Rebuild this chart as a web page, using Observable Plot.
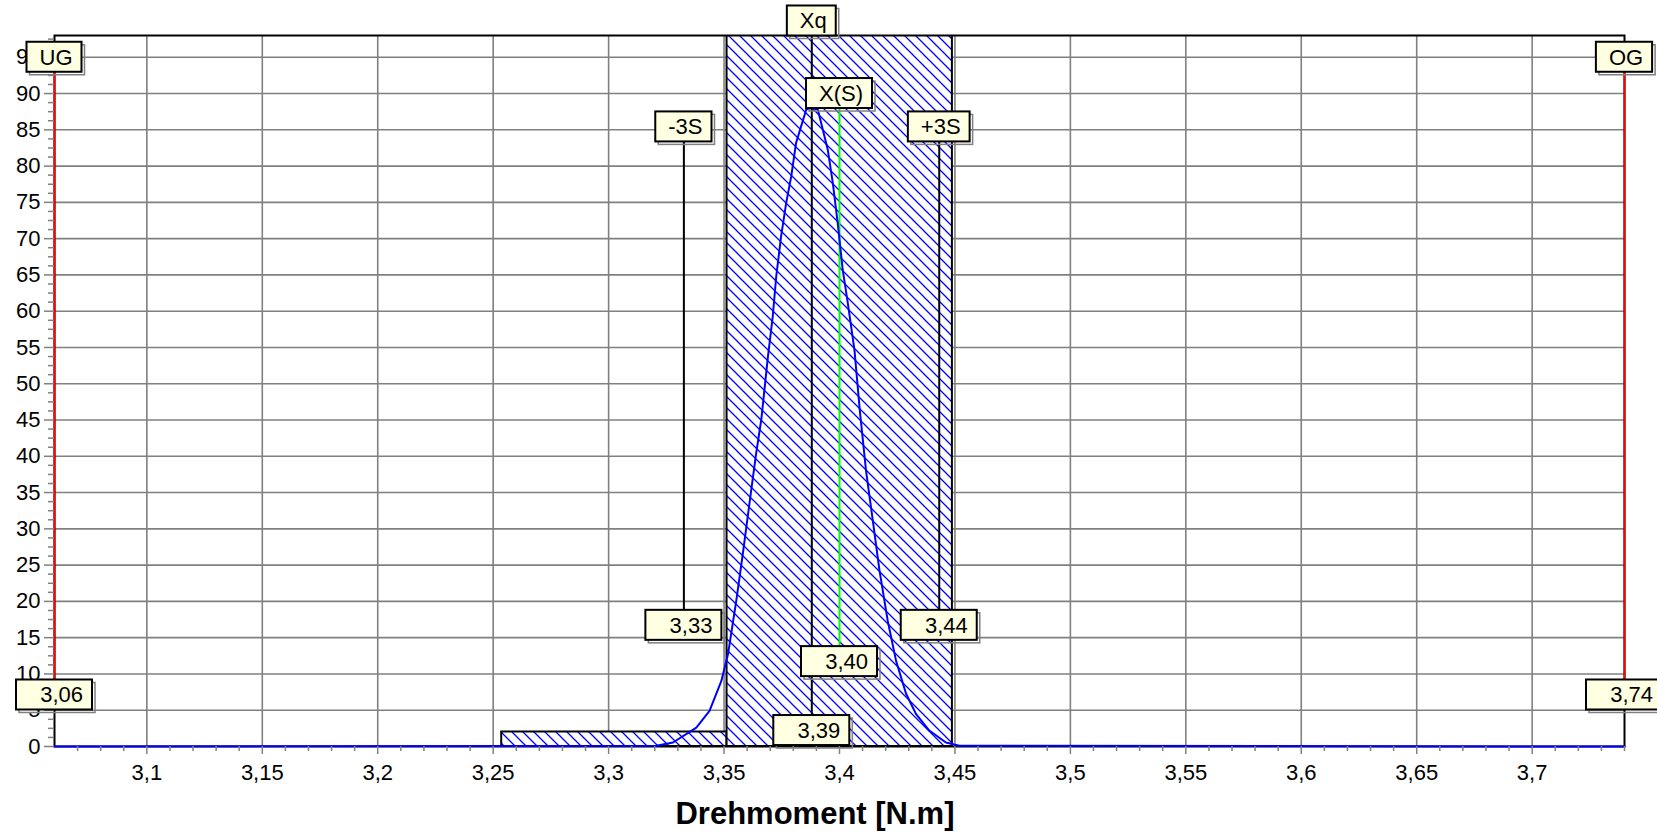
<!DOCTYPE html>
<html>
<head>
<meta charset="utf-8">
<script src="https://cdn.jsdelivr.net/npm/d3@7"></script>
<script src="https://cdn.jsdelivr.net/npm/@observablehq/plot@0.6"></script>
<style>
  html, body { margin: 0; padding: 0; background: #fff; }
  #wrap { position: relative; width: 1657px; height: 835px; overflow: hidden; }
  #title { position: absolute; left: 0; top: 797px; width: 1630px; text-align: center;
           font: bold 31px "Liberation Sans", Arial, sans-serif; line-height: 34px; color: #000; }
</style>
</head>
<body>
<div id="wrap"><div id="title">Drehmoment [N.m]</div></div>
<script>
// ---- data ----
const xDomain = [3.06, 3.74];
const yDomain = [0, 98];
const xTicks = [3.1, 3.15, 3.2, 3.25, 3.3, 3.35, 3.4, 3.45, 3.5, 3.55, 3.6, 3.65, 3.7];
const xTickLabels = ["3,1", "3,15", "3,2", "3,25", "3,3", "3,35", "3,4", "3,45", "3,5", "3,55", "3,6", "3,65", "3,7"];
const yTicks = [0, 5, 10, 15, 20, 25, 30, 35, 40, 45, 50, 55, 60, 65, 70, 75, 80, 85, 90, 95];

// histogram classes (percent)
const binStart = [3.2537, 3.3513];
const binEnd = [3.3513, 3.4489];
const binPercent = [2, 98];

// fitted distribution curve
const curveX = [3.06, 3.3207, 3.3279, 3.3380, 3.3437, 3.3488, 3.3517, 3.3553, 3.3581, 3.3610, 3.3639, 3.3661,
  3.3690, 3.3711, 3.3726, 3.3747, 3.3769, 3.3791, 3.3812, 3.3856, 3.3878, 3.3906, 3.3949, 3.3971, 3.3992,
  3.4014, 3.4036, 3.4065, 3.4088, 3.4115, 3.4144, 3.4173, 3.4209, 3.4245, 3.4288, 3.4331, 3.4389, 3.4461, 3.4519, 3.74];
const curveY = [0, 0.1, 0.55, 2.6, 4.9, 9.0, 12.7, 20.1, 26.5, 33.5, 40.4, 45.0,
  53.7, 59.3, 64.8, 70.3, 74.9, 78.6, 83.2, 87.8, 88.0, 87.8, 82.3, 77.7, 72.2,
  65.7, 61.1, 54.6, 46.3, 38.0, 31.2, 24.3, 17.3, 11.8, 7.3, 4.5, 2.2, 0.55, 0.1, 0];

// statistical markers
const markerNames = ["UG", "OG", "Xq", "X(S)", "-3S", "+3S"];
const markerValues = [3.06, 3.74, 3.388, 3.400, 3.3326, 3.4432];
const markerNameLevel = [95, 95, 100, 90, 85.4, 85.4];   // y (percent) of the name tag
const markerValueLevel = [7.1, 7.1, 2.2, 11.7, 16.7, 16.7]; // y (percent) of the value tag
const markerColor = ["#ff0000", "#ff0000", "#000000", "#00ff00", "#000000", "#000000"];

// ---- build tables ----
const bins = binStart.map((s, i) => ({x1: s, x2: binEnd[i], y: binPercent[i]}));
const curve = curveX.map((x, i) => ({x, y: curveY[i]}));
const markers = markerNames.map((name, i) => ({
  name, value: markerValues[i], top: markerNameLevel[i], bottom: markerValueLevel[i], color: markerColor[i]
}));
const fmt = v => String(v).replace(".", ",");
const xMinor = d3.range(3.07, 3.7401, 0.01).map(v => +v.toFixed(2)).filter(v => !xTicks.some(t => Math.abs(t - v) < 1e-6));
const yMinor = d3.range(0, 98.01, 1.25).filter(v => v % 5 !== 0);

const grey = "#808080";
const fontFam = "'Liberation Sans', Arial, sans-serif";
const fs = 22;

const chart = Plot.plot({
  width: 1657,
  height: 795,
  marginLeft: 54,
  marginRight: 33,
  marginTop: 35,
  marginBottom: 49,
  x: {domain: xDomain},
  y: {domain: yDomain},
  style: {fontFamily: fontFam, fontSize: fs + "px", background: "#fff", color: "#000", overflow: "visible"},
  marks: [
    Plot.gridX(xTicks, {stroke: grey, strokeOpacity: 1, strokeWidth: 1.6}),
    Plot.gridY(yTicks.filter(v => v > 0), {stroke: grey, strokeOpacity: 1, strokeWidth: 1.6}),
    Plot.rect(bins, {x1: "x1", x2: "x2", y1: 0, y2: "y", fill: "url(#hatch)", stroke: "#000", strokeWidth: 2, clip: true}),
    Plot.frame({stroke: "#000", strokeWidth: 2}),
    Plot.ruleX(markers.filter(m => m.name === "Xq"), {x: "value", y1: 0, y2: yDomain[1], stroke: "#000", strokeWidth: 2}),
    Plot.ruleX(markers.filter(m => m.name !== "Xq"), {x: "value", y1: "bottom", y2: "top", stroke: "color", strokeWidth: 2}),
    Plot.line(curve, {x: "x", y: "y", stroke: "#0000ff", strokeWidth: 2}),
    Plot.axisX(xTicks, {tickSize: 8, tickPadding: 10, stroke: grey, fill: "#000", strokeWidth: 1.5,
      tickFormat: d => xTickLabels[xTicks.indexOf(d)], label: null}),
    Plot.axisX(xMinor, {tickSize: 5, stroke: grey, strokeWidth: 1.5, tickFormat: () => "", label: null}),
    Plot.axisY(yTicks, {tickSize: 10, tickPadding: 4, stroke: grey, fill: "#000", strokeWidth: 1.5, label: null}),
    Plot.axisY(yMinor, {tickSize: 6, stroke: grey, strokeWidth: 1.5, tickFormat: () => "", label: null})
  ]
});

const svg = d3.select(chart);
// hatch pattern
const defs = svg.insert("defs", ":first-child");
const pat = defs.append("pattern").attr("id", "hatch").attr("patternUnits", "userSpaceOnUse")
  .attr("width", 11).attr("height", 11);
pat.append("rect").attr("width", 11).attr("height", 11).attr("fill", "#fff");
pat.append("path").attr("d", "M-1,-1L12,12M-1,10L1,12M10,-1L12,1")
  .attr("stroke", "#0000ff").attr("stroke-width", 1.3).attr("fill", "none");

// tag boxes (positions through Plot's scales)
const sx = chart.scale("x"), sy = chart.scale("y");
const ctx = document.createElement("canvas").getContext("2d");
ctx.font = fs + "px 'Liberation Sans'";
const tags = [];
markers.forEach(m => {
  tags.push({text: m.name, x: m.value, y: m.top, numeric: false});
  tags.push({text: fmt(m.value.toFixed(2)), x: m.value, y: m.bottom, numeric: true});
});
const g = svg.append("g");
tags.forEach(t => {
  const cx = sx.apply(t.x), cy = sy.apply(t.y);
  const tw = ctx.measureText(t.text).width;
  const w = t.numeric ? 76 : tw + 22;
  const h = 30;
  const x0 = cx - w / 2, y0 = cy - h / 2;
  g.append("rect").attr("x", x0 + 3).attr("y", y0 + 3).attr("width", w).attr("height", h)
    .attr("fill", "none").attr("stroke", grey).attr("stroke-width", 1.5);
  g.append("rect").attr("x", x0).attr("y", y0).attr("width", w).attr("height", h)
    .attr("fill", "#ffffe1").attr("stroke", "#000").attr("stroke-width", 2);
  g.append("text").attr("x", x0 + w - 9).attr("y", cy + 8).attr("text-anchor", "end")
    .attr("font-family", fontFam).attr("font-size", fs).attr("fill", "#000").text(t.text);
});

document.getElementById("wrap").prepend(chart);
</script>
</body>
</html>
